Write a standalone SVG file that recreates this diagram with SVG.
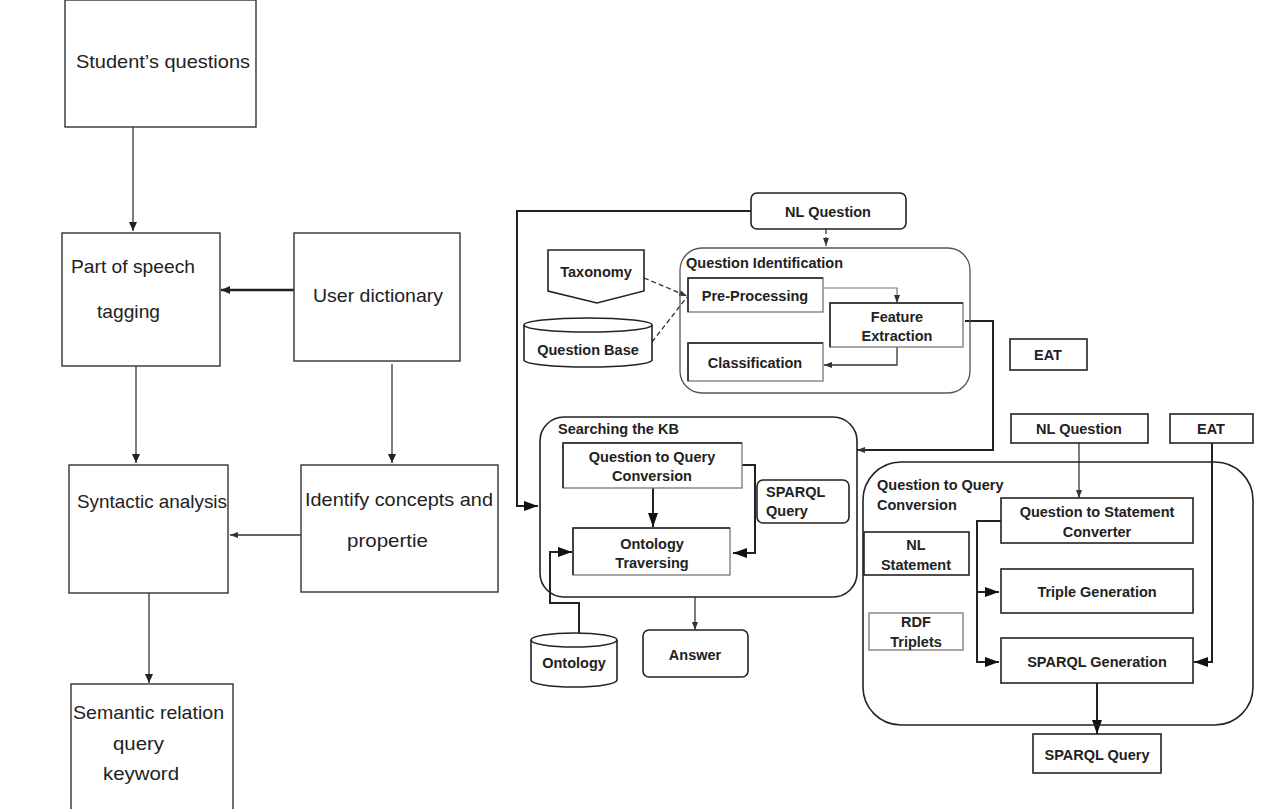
<svg xmlns="http://www.w3.org/2000/svg" width="1269" height="809" viewBox="0 0 1269 809">
<style>
.lb{fill:#fff;stroke:#333;stroke-width:1.4}
.lt{font-family:"Liberation Sans",Arial,sans-serif;font-size:19px;fill:#222}
.rb{fill:#fff;stroke:#222;stroke-width:1.6}
.rl{fill:#fff;stroke:#777;stroke-width:1.3}
.rt{font-family:"Liberation Sans",Arial,sans-serif;font-size:14.5px;font-weight:bold;fill:#222;text-anchor:middle}
.rs{font-family:"Liberation Sans",Arial,sans-serif;font-size:14.5px;font-weight:bold;fill:#222}
.c{fill:none;stroke:#333;stroke-width:1.3}
.cb{fill:none;stroke:#222;stroke-width:2}
.d{fill:none;stroke:#333;stroke-width:1.3;stroke-dasharray:5,3}
</style>
<defs>
<marker id="as" markerUnits="userSpaceOnUse" markerWidth="9" markerHeight="10" refX="9" refY="5" orient="auto"><path d="M0,1 L9,5 L0,9 z" fill="#222"/></marker>
<marker id="ab" markerUnits="userSpaceOnUse" markerWidth="14" markerHeight="12" refX="14" refY="6" orient="auto"><path d="M0,1 L14,6 L0,11 z" fill="#111"/></marker>
<marker id="at" markerUnits="userSpaceOnUse" markerWidth="8" markerHeight="8" refX="8" refY="4" orient="auto"><path d="M0,1 L8,4 L0,7 z" fill="#333"/></marker>
</defs>
<rect width="1269" height="809" fill="#fff"/>

<g id="connectors">
<line class="c" x1="133" y1="127" x2="133" y2="231" marker-end="url(#as)"/>
<line x1="294" y1="290" x2="221" y2="290" stroke="#222" stroke-width="2.6" marker-end="url(#as)"/>
<line class="c" x1="136" y1="366" x2="136" y2="463" marker-end="url(#as)"/>
<line class="c" x1="392" y1="364" x2="392" y2="463" marker-end="url(#as)"/>
<line class="c" x1="302" y1="535" x2="230" y2="535" marker-end="url(#at)"/>
<line class="c" x1="149" y1="593" x2="149" y2="683" marker-end="url(#as)"/>

<polyline class="cb" points="751,211 517,211 517,506 538,506" marker-end="url(#ab)"/>
<line class="d" x1="826" y1="229" x2="826" y2="246" marker-end="url(#at)"/>
<line class="d" x1="644" y1="278" x2="687" y2="296" marker-end="url(#at)"/>
<line class="d" x1="652" y1="342" x2="687" y2="297"/>
<polyline points="823,288 897,288 897,303" fill="none" stroke="#777" stroke-width="1.2" marker-end="url(#at)"/>
<polyline class="c" points="897,347 897,365 824,365" marker-end="url(#at)"/>
<polyline class="cb" points="965,321 993,321 993,450 857,450" marker-end="url(#at)"/>

<polyline class="cb" points="742,465 755,465 755,553 733,553" marker-end="url(#ab)"/>
<line class="cb" x1="653" y1="488" x2="653" y2="527" marker-end="url(#ab)"/>
<polyline class="cb" points="579,633 579,603 550,603 550,552 572,552" marker-end="url(#ab)"/>
<line class="c" x1="695" y1="597" x2="695" y2="630" marker-end="url(#at)"/>

<line class="c" x1="1079" y1="443" x2="1079" y2="498" marker-end="url(#at)"/>
<polyline class="cb" points="1212,443 1212,662 1194,662" marker-end="url(#ab)"/>
<polyline class="cb" points="1001,521 977,521 977,662 999,662" marker-end="url(#ab)"/>
<line class="cb" x1="977" y1="592" x2="999" y2="592" marker-end="url(#ab)"/>
<line class="cb" x1="1097" y1="683" x2="1097" y2="734" marker-end="url(#ab)"/>
</g>

<g id="students-questions"><rect class="lb" x="65" y="0" width="191" height="127"/><text class="lt" x="76" y="68" textLength="174" lengthAdjust="spacingAndGlyphs">Student’s questions</text></g>
<g id="pos-tagging"><rect class="lb" x="62" y="233" width="158" height="133"/><text class="lt" x="71" y="273" textLength="124" lengthAdjust="spacingAndGlyphs">Part of speech</text><text class="lt" x="97" y="318" textLength="63" lengthAdjust="spacingAndGlyphs">tagging</text></g>
<g id="user-dictionary"><rect class="lb" x="294" y="233" width="166" height="128"/><text class="lt" x="313" y="302" textLength="130" lengthAdjust="spacingAndGlyphs">User dictionary</text></g>
<g id="syntactic-analysis"><rect class="lb" x="69" y="465" width="159" height="128"/><text class="lt" x="77" y="508" textLength="150" lengthAdjust="spacingAndGlyphs">Syntactic analysis</text></g>
<g id="identify-concepts"><rect class="lb" x="301" y="465" width="197" height="127"/><text class="lt" x="305" y="506" textLength="188" lengthAdjust="spacingAndGlyphs">Identify concepts and</text><text class="lt" x="347" y="547" textLength="81" lengthAdjust="spacingAndGlyphs">propertie</text></g>
<g id="semantic-relation"><rect class="lb" x="71" y="684" width="162" height="140"/><text class="lt" x="73" y="719" textLength="151" lengthAdjust="spacingAndGlyphs">Semantic relation</text><text class="lt" x="113" y="750" textLength="51" lengthAdjust="spacingAndGlyphs">query</text><text class="lt" x="103" y="780" textLength="76" lengthAdjust="spacingAndGlyphs">keyword</text></g>

<g id="nl-question-top"><rect class="rb" x="751" y="193" width="155" height="36" rx="6"/><text class="rt" x="828" y="217">NL Question</text></g>
<g id="question-identification"><rect x="680" y="248" width="290" height="145" rx="22" fill="none" stroke="#555" stroke-width="1.3"/><text class="rs" x="686" y="268">Question Identification</text></g>
<g id="taxonomy"><polygon class="rb" points="548,250 644,250 644,291 597,303 548,291"/><text class="rt" x="596" y="277">Taxonomy</text></g>
<g id="question-base"><path class="rb" d="M524,325 L524,360 A64,7 0 0 0 652,360 L652,325"/><ellipse class="rb" cx="588" cy="325" rx="64" ry="7"/><text class="rt" x="588" y="355">Question Base</text></g>
<g id="pre-processing"><rect class="rl" x="688" y="278" width="135" height="34"/><path d="M688,312 L688,278 L823,278" fill="none" stroke="#222" stroke-width="1.5"/><text class="rt" x="755" y="301">Pre-Processing</text></g>
<g id="feature-extraction"><rect class="rl" x="830" y="303" width="133" height="44"/><path d="M830,347 L830,303 L963,303" fill="none" stroke="#222" stroke-width="1.5"/><text class="rt" x="897" y="322">Feature</text><text class="rt" x="897" y="341">Extraction</text></g>
<g id="classification"><rect class="rl" x="688" y="343" width="135" height="38"/><path d="M688,381 L688,343 L823,343" fill="none" stroke="#222" stroke-width="1.5"/><text class="rt" x="755" y="368">Classification</text></g>
<g id="eat-mid"><rect class="rb" x="1010" y="339" width="77" height="31"/><text class="rt" x="1048" y="360">EAT</text></g>

<g id="searching-kb"><rect x="540" y="417" width="317" height="180" rx="24" fill="none" stroke="#222" stroke-width="1.6"/><text class="rs" x="558" y="434">Searching the KB</text></g>
<g id="qtq-conversion-inner"><rect class="rl" x="563" y="443" width="179" height="45"/><path d="M563,488 L563,443 L742,443" fill="none" stroke="#222" stroke-width="1.5"/><text class="rt" x="652" y="462">Question to Query</text><text class="rt" x="652" y="481">Conversion</text></g>
<g id="sparql-query-mid"><rect class="rb" x="757" y="480" width="92" height="43" rx="6"/><text class="rs" x="766" y="497">SPARQL</text><text class="rs" x="766" y="516">Query</text></g>
<g id="ontology-traversing"><rect class="rl" x="573" y="528" width="157" height="47"/><path d="M573,575 L573,528 L730,528" fill="none" stroke="#222" stroke-width="1.5"/><text class="rt" x="652" y="549">Ontology</text><text class="rt" x="652" y="568">Traversing</text></g>
<g id="ontology"><path class="rb" d="M531,640 L531,680 A43,7 0 0 0 617,680 L617,640"/><ellipse class="rb" cx="574" cy="640" rx="43" ry="7"/><text class="rt" x="574" y="668">Ontology</text></g>
<g id="answer"><rect class="rb" x="643" y="630" width="105" height="47" rx="6"/><text class="rt" x="695" y="660">Answer</text></g>

<g id="nl-question-2"><rect class="rb" x="1011" y="414" width="137" height="29"/><text class="rt" x="1079" y="434">NL Question</text></g>
<g id="eat-2"><rect class="rb" x="1170" y="414" width="83" height="29"/><text class="rt" x="1211" y="434">EAT</text></g>
<g id="qtq-conversion-outer"><rect x="863" y="462" width="390" height="263" rx="38" fill="none" stroke="#222" stroke-width="1.6"/><text class="rs" x="877" y="490">Question to Query</text><text class="rs" x="877" y="510">Conversion</text></g>
<g id="qts-converter"><rect class="rb" x="1001" y="498" width="192" height="45"/><text class="rt" x="1097" y="517">Question to Statement</text><text class="rt" x="1097" y="537">Converter</text></g>
<g id="nl-statement"><rect class="rb" x="864" y="532" width="105" height="43"/><text class="rt" x="916" y="550">NL</text><text class="rt" x="916" y="570">Statement</text></g>
<g id="triple-generation"><rect class="rb" x="1001" y="569" width="192" height="44"/><text class="rt" x="1097" y="597">Triple Generation</text></g>
<g id="rdf-triplets"><rect class="rl" x="869" y="613" width="94" height="37"/><text class="rt" x="916" y="627">RDF</text><text class="rt" x="916" y="647">Triplets</text></g>
<g id="sparql-generation"><rect class="rb" x="1001" y="638" width="192" height="45"/><text class="rt" x="1097" y="667">SPARQL Generation</text></g>
<g id="sparql-query-bottom"><rect class="rb" x="1033" y="734" width="128" height="39"/><text class="rt" x="1097" y="760">SPARQL Query</text></g>
</svg>
